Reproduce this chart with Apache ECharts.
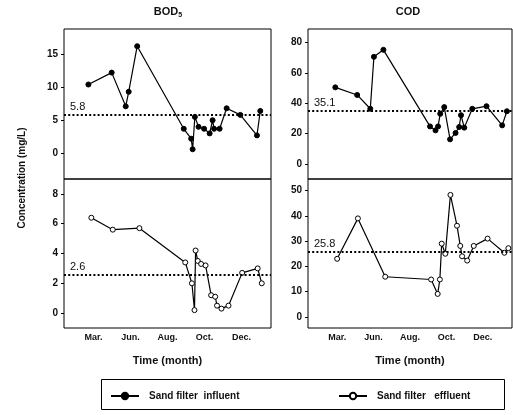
<!DOCTYPE html>
<html><head><meta charset="utf-8">
<script src="https://cdn.jsdelivr.net/npm/echarts@6/dist/echarts.min.js"></script>
<style>html,body{margin:0;padding:0;background:#fff}#c{width:513px;height:415px}</style>
</head><body><div id="c"></div>
<script>
// Month tick labels (positions are evenly spaced category slots)
const months = ['Mar.', 'Jun.', 'Aug.', 'Oct.', 'Dec.'];
const monthPos = [0, 1, 2, 3, 4];

// BOD5 influent
const bodInfX = [-0.14, 0.49, 0.87, 0.95, 1.18, 2.44, 2.64, 2.68, 2.74, 2.84, 2.99, 3.14, 3.22, 3.26, 3.41, 3.60, 3.97, 4.42, 4.51];
const bodInfY = [10.4, 12.2, 7.1, 9.3, 16.2, 3.7, 2.2, 0.6, 5.5, 4.0, 3.7, 3.0, 5.0, 3.7, 3.7, 6.8, 5.8, 2.7, 6.4];
// COD influent
const codInfX = [-0.05, 0.55, 0.91, 1.01, 1.27, 2.55, 2.70, 2.77, 2.83, 2.94, 3.10, 3.25, 3.35, 3.40, 3.49, 3.71, 4.10, 4.53, 4.66];
const codInfY = [50.5, 45.5, 36.4, 70.6, 75.2, 24.8, 22.2, 24.8, 33.1, 37.5, 16.3, 20.5, 24.4, 32.2, 24.0, 36.4, 38.1, 25.5, 34.8];
// BOD5 effluent
const bodEffX = [-0.06, 0.52, 1.24, 2.48, 2.66, 2.73, 2.76, 2.82, 2.91, 3.03, 3.18, 3.29, 3.34, 3.46, 3.65, 4.02, 4.44, 4.55];
const bodEffY = [6.4, 5.6, 5.7, 3.4, 2.0, 0.2, 4.2, 3.5, 3.3, 3.2, 1.2, 1.1, 0.5, 0.3, 0.5, 2.7, 3.0, 2.0];
// COD effluent
const codEffX = [0.0, 0.57, 1.32, 2.58, 2.76, 2.82, 2.87, 2.97, 3.11, 3.29, 3.38, 3.43, 3.57, 3.75, 4.13, 4.59, 4.70];
const codEffY = [23.0, 39.0, 15.9, 14.8, 9.1, 14.8, 29.0, 25.0, 48.3, 36.1, 28.1, 24.0, 22.3, 28.1, 31.0, 25.4, 27.2];

// Mean values (dotted reference lines)
const means = [5.8, 35.1, 2.6, 25.8];

// Y tick labels per panel
const bodInfTicks = [0, 5, 10, 15];
const codInfTicks = [0, 20, 40, 60, 80];
const bodEffTicks = [0, 2, 4, 6, 8];
const codEffTicks = [0, 10, 20, 30, 40, 50];

const NAME_IN = 'Sand filter  influent';
const NAME_EF = 'Sand filter   effluent';
const FONT = 'Liberation Sans, Arial, sans-serif';

const pairs = (xs, ys) => xs.map((v, i) => [v, ys[i]]);

const grids = [
  {left: 64, width: 207, top: 29, height: 150},
  {left: 308, width: 204, top: 29, height: 150},
  {left: 64, width: 207, top: 179, height: 149},
  {left: 308, width: 204, top: 179, height: 149}
].map(g => Object.assign({show: true, borderColor: '#000', borderWidth: 1, backgroundColor: 'transparent'}, g));

function xAx(i, showLabels) {
  return {
    type: 'value', gridIndex: i, min: -0.8, max: 4.8, position: 'bottom',
    splitLine: {show: false}, axisLine: {show: false, onZero: false},
    axisTick: {show: false},
    axisLabel: {
      show: showLabels, customValues: monthPos, margin: 5,
      formatter: v => months[Math.round(v)] || '',
      fontFamily: FONT, fontSize: 9, fontWeight: 'bold', color: '#111'
    },
    name: showLabels ? 'Time (month)' : '',
    nameLocation: 'middle', nameGap: 27,
    nameTextStyle: {fontFamily: FONT, fontSize: 11, fontWeight: 'bold', color: '#111'}
  };
}
function yAx(i, min, max, ticks) {
  return {
    type: 'value', gridIndex: i, min: min, max: max, position: 'left',
    splitLine: {show: false}, axisLine: {show: false, onZero: false},
    axisTick: {show: true, customValues: ticks, length: 3, lineStyle: {color: '#000'}},
    axisLabel: {customValues: ticks, margin: 6, fontFamily: FONT, fontSize: 10, fontWeight: 'bold', color: '#111'}
  };
}

function mk(i, val) {
  return {
    silent: true, symbol: ['none', 'none'], animation: false,
    lineStyle: {type: [2, 2.2], width: 2, color: '#000'},
    label: {show: true, position: 'insideStartTop', distance: [6, 2], formatter: String(val),
      fontFamily: FONT, fontSize: 11, color: '#111'},
    data: [{yAxis: val}]
  };
}

function ser(name, i, data, filled, mean) {
  return {
    name: name, type: 'line', xAxisIndex: i, yAxisIndex: i, data: data,
    color: '#000',
    symbol: 'circle', symbolSize: 5, showAllSymbol: true,
    itemStyle: {color: filled ? '#000' : '#fff', borderColor: '#000', borderWidth: 1},
    lineStyle: {color: '#000', width: 1.2, type: 'solid'},
    markLine: mk(i, mean), animation: false
  };
}

const chart = echarts.init(document.getElementById('c'), null, {renderer: 'canvas'});
chart.setOption({
  animation: false,
  backgroundColor: '#fff',
  grid: grids,
  xAxis: [xAx(0, false), xAx(1, false), xAx(2, true), xAx(3, true)],
  yAxis: [yAx(0, -3.9, 18.8, bodInfTicks), yAx(1, -9.8, 88.9, codInfTicks), yAx(2, -1.0, 9.0, bodEffTicks), yAx(3, -4.4, 54.6, codEffTicks)],
  legend: [
    {data: [NAME_IN], left: 105, top: 386, itemWidth: 28, itemHeight: 8,
      textStyle: {fontFamily: FONT, fontSize: 10, fontWeight: 'bold', color: '#111', padding: [0, 0, 0, 5]}},
    {data: [NAME_EF], left: 333, top: 386, itemWidth: 28, itemHeight: 8,
      textStyle: {fontFamily: FONT, fontSize: 10, fontWeight: 'bold', color: '#111', padding: [0, 0, 0, 5]}}
  ],
  graphic: [
    {type: 'rect', shape: {x: 101.5, y: 379.5, width: 403, height: 30}, style: {fill: 'none', stroke: '#000', lineWidth: 1}},
    {type: 'text', x: 168, y: 12, style: {text: '{a|BOD}{b|5}', align: 'center', verticalAlign: 'middle',
      rich: {a: {fontFamily: FONT, fontSize: 11, fontWeight: 'bold', fill: '#111', lineHeight: 14},
             b: {fontFamily: FONT, fontSize: 7, fontWeight: 'bold', fill: '#111', verticalAlign: 'bottom', lineHeight: 14}}}},
    {type: 'text', x: 408, y: 12, style: {text: 'COD', align: 'center', verticalAlign: 'middle',
      font: 'bold 11px Liberation Sans, Arial, sans-serif', fill: '#111'}},
    {type: 'text', x: 22, y: 178, rotation: Math.PI / 2, style: {text: 'Concentration (mg/L)', align: 'center', verticalAlign: 'middle',
      font: 'bold 10px Liberation Sans, Arial, sans-serif', fill: '#111'}}
  ],
  series: [
    ser(NAME_IN, 0, pairs(bodInfX, bodInfY), true, means[0]),
    ser(NAME_IN, 1, pairs(codInfX, codInfY), true, means[1]),
    ser(NAME_EF, 2, pairs(bodEffX, bodEffY), false, means[2]),
    ser(NAME_EF, 3, pairs(codEffX, codEffY), false, means[3])
  ]
});
</script>
</body></html>
